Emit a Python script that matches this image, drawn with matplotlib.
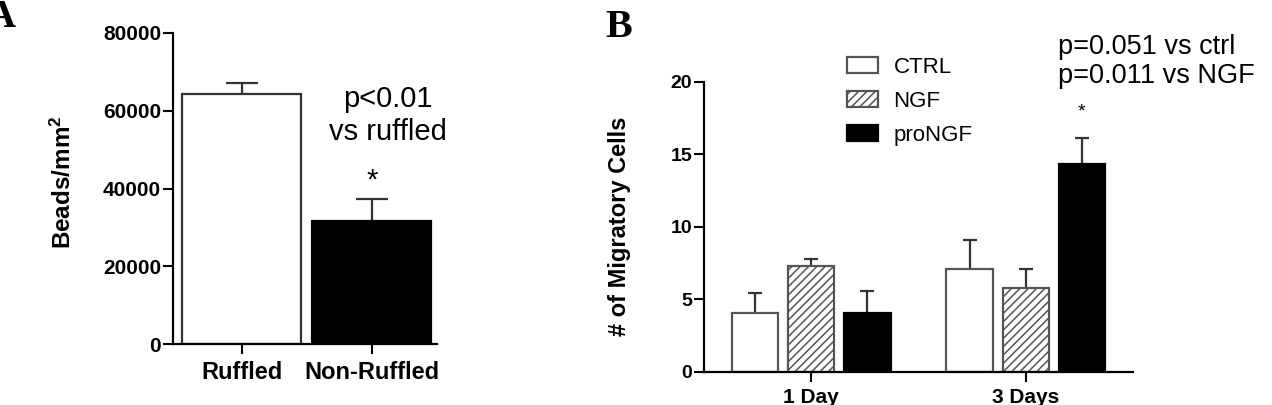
import numpy as np
import matplotlib
matplotlib.use("Agg")
import matplotlib.pyplot as plt

plt.rcParams["font.family"] = ["Liberation Sans", "DejaVu Sans"]
plt.rcParams["mathtext.default"] = "regular"
plt.rcParams["hatch.linewidth"] = 1.1

# panel A data
a_groups = ["Ruffled", "Non-Ruffled"]
a_means = [64300, 31650]
a_errs = [2900, 5650]

# panel B data
b_days = ["1 Day", "3 Days"]
b_series = ["CTRL", "NGF", "proNGF"]
ctrl_means = [4.05, 7.05]
ctrl_errs = [1.4, 2.0]
ngf_means = [7.3, 5.8]
ngf_errs = [0.45, 1.3]
pro_means = [4.05, 14.3]
pro_errs = [1.55, 1.8]

W, H = 1272, 405


def fx(x):
    return x / W


def fy(y):
    return 1 - y / H


fig = plt.figure(figsize=(W / 100, H / 100), dpi=100)


def style_axes(ax):
    for s in ["top", "right"]:
        ax.spines[s].set_visible(False)
    for s in ["left", "bottom"]:
        ax.spines[s].set_linewidth(1.6)
    ax.tick_params(width=1.5, length=7)
    for lab in ax.get_xticklabels() + ax.get_yticklabels():
        lab.set_fontweight("bold")


def upper_err(ax, x, y, e, capsize):
    eb = ax.errorbar(x, y, yerr=[np.zeros(len(e)), e], fmt="none",
                     ecolor="#333333", elinewidth=1.6, capsize=capsize,
                     capthick=1.6, zorder=1)
    eb[1][0].set_visible(False)


# ---- panel A ----
axA = fig.add_axes([fx(173), fy(344), fx(264), 311 / H])
xa = np.arange(len(a_groups))
axA.bar(xa, a_means, width=0.915, color=["white", "black"],
        edgecolor=["#333333", "black"], linewidth=1.6, zorder=2)
upper_err(axA, xa, a_means, a_errs, 11.5)
axA.set_xlim(-0.53, 1.5)
axA.set_ylim(0, 80000)
axA.set_yticks([0, 20000, 40000, 60000, 80000])
axA.set_xticks(xa)
axA.set_xticklabels(a_groups, fontsize=17)
axA.tick_params(axis="y", labelsize=15, pad=1.5)
axA.tick_params(axis="x", length=6, pad=5)
axA.set_ylabel("Beads/mm$^2$", fontsize=17.5, fontweight="bold", va="center")
axA.yaxis.set_label_coords(-0.417, 0.52)
style_axes(axA)
axA.text(1, a_means[1] + a_errs[1] + 2800, "*", ha="center", va="baseline",
         fontsize=21)
fig.text(fx(388), fy(107), "p<0.01", ha="center", va="baseline", fontsize=21)
fig.text(fx(388), fy(140), "vs ruffled", ha="center", va="baseline", fontsize=21)
fig.text(fx(16), fy(27), "A", ha="right", va="baseline", fontsize=29,
         fontweight="bold", family="Liberation Serif")

# ---- panel B ----
axB = fig.add_axes([fx(704), fy(371.7), fx(429), 290 / H])
xb = np.arange(len(b_days))
bw = 0.216
step = 0.262
b1 = axB.bar(xb - step, ctrl_means, width=bw, color="white",
             edgecolor="#555555", linewidth=1.6, zorder=2, label=b_series[0])
b2 = axB.bar(xb, ngf_means, width=bw, color="white", edgecolor="#555555",
             hatch="////", linewidth=1.6, zorder=2, label=b_series[1])
b3 = axB.bar(xb + step, pro_means, width=bw, color="black",
             edgecolor="black", linewidth=1.6, zorder=2, label=b_series[2])
upper_err(axB, xb - step, ctrl_means, ctrl_errs, 4.7)
upper_err(axB, xb, ngf_means, ngf_errs, 4.7)
upper_err(axB, xb + step, pro_means, pro_errs, 4.7)
axB.set_xlim(-0.5, 1.5)
axB.set_ylim(0, 20)
axB.set_yticks([0, 5, 10, 15, 20])
axB.set_xticks(xb)
axB.set_xticklabels(b_days, fontsize=15)
axB.tick_params(axis="y", labelsize=14, pad=1.5)
axB.tick_params(axis="x", length=6, pad=5)
axB.set_ylabel("# of Migratory Cells", fontsize=17, fontweight="bold",
               va="center")
axB.yaxis.set_label_coords(-0.196, 0.5)
style_axes(axB)
axB.text(1 + step, pro_means[1] + pro_errs[1] + 1.5, "*", ha="center",
         va="baseline", fontsize=14)

fig.legend(handles=[b1, b2, b3], loc="upper left",
           bbox_to_anchor=(fx(847), fy(57)), frameon=False, fontsize=16,
           borderpad=0, borderaxespad=0, handlelength=1.41,
           handleheight=0.73, handletextpad=0.68, labelspacing=0.58)

fig.text(fx(1058), fy(54), "p=0.051 vs ctrl", ha="left", va="baseline",
         fontsize=19.5)
fig.text(fx(1058), fy(83), "p=0.011 vs NGF", ha="left", va="baseline",
         fontsize=19.5)
fig.text(fx(632), fy(37), "B", ha="right", va="baseline", fontsize=29,
         fontweight="bold", family="Liberation Serif")

fig.savefig("out.png", dpi=100)
